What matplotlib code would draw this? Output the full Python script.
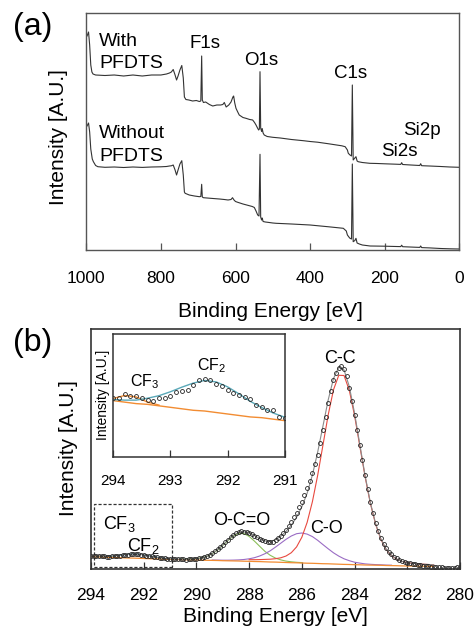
import numpy as np
import matplotlib
matplotlib.use('Agg')
import matplotlib.pyplot as plt
from matplotlib import rc
from matplotlib.patches import Rectangle

rc('font', family=['Liberation Sans', 'DejaVu Sans'])
rc('mathtext', default='regular')

# ---------------- (a) survey spectra ----------------
be_with = [998, 994, 991, 988, 985, 982, 975, 950, 925, 900,
           875, 850, 825, 800, 785, 777, 772, 767, 762, 758,
           754, 749, 744, 740, 737, 733, 725, 715, 705, 697,
           693, 690.7, 689, 686, 680, 670, 661, 650, 640, 634,
           630, 625, 618, 612, 607, 605, 602, 598.7, 594, 590,
           580, 572, 562, 554, 549, 545, 541, 538, 536, 534.3,
           532.5, 530, 528.5, 526, 523, 515, 500, 480, 450, 418,
           400, 380, 350, 329, 315, 306, 300, 297.6, 293, 289,
           286.8, 284.5, 280, 277, 274, 271, 260, 240, 220, 200,
           170, 157, 154.5, 152, 130, 106, 103.5, 101, 80, 50,
           25, 0]
int_with = [214, 218, 205, 185, 178, 176, 175, 174.5, 175, 174,
            175, 174, 175, 175, 176, 177, 178, 180.5, 175, 170,
            174, 180, 184.5, 172, 153, 150.5, 150, 149, 149.5, 148.5,
            149, 194, 150, 147.5, 148, 145.5, 144, 145, 145, 145.5,
            147.5, 143, 145, 148, 153, 154, 147, 141.7, 138, 135,
            132.5, 131.7, 130.5, 130, 127.5, 125, 122, 120, 121, 178.3,
            122, 118.5, 121.5, 117, 115, 113.5, 112.7, 112, 110.5, 109.3,
            108.5, 107.8, 106.2, 105, 104.2, 103.3, 100, 96.7, 95, 94,
            165, 90, 92, 93.3, 89, 88.3, 87.5, 86.7, 86.5, 86.2,
            85.8, 85.6, 87.3, 85.5, 85, 84.5, 86.3, 84.3, 84, 83.5,
            83, 82.7]

be_without = [998, 994, 991, 988, 984, 981, 975, 969, 950, 925,
              900, 875, 850, 825, 800, 785, 777, 772, 767, 762,
              758, 754, 749, 744, 740, 737, 735, 724, 710, 697,
              693, 690.7, 689, 686, 670, 650, 643, 630, 620, 612,
              608, 604, 600, 594, 580, 563, 555, 549.5, 545, 540.5,
              537, 534.3, 532.5, 530, 528.5, 526, 520, 513.7, 500, 491,
              450, 400, 350, 311, 303, 300, 295, 293, 289, 286.8,
              284.5, 280, 277, 274, 268, 260, 239, 200, 170, 157,
              154.5, 152, 120, 106, 103.5, 101, 80, 50, 25, 0]
int_without = [124, 127, 118, 101, 91, 88.3, 84.5, 83.3, 82.7, 83,
               82.5, 83, 82.6, 83, 83.2, 83.5, 84, 84.2, 85, 80,
               75, 80, 86, 89.3, 75, 58, 56.7, 55, 54, 53.3,
               53.5, 65.7, 53, 52.3, 51.8, 51.2, 51, 50.5, 50, 50.5,
               52.3, 50, 48.5, 47.7, 46, 44.3, 43.5, 42.5, 39, 35,
               34, 95.7, 33, 30, 32, 28.5, 28, 27.7, 27, 26.7,
               26, 25, 23.2, 21.7, 19, 15, 12.5, 11.7, 11, 86,
               8.3, 9.5, 11.7, 7, 6, 5, 4, 3.8, 3.5, 3.4,
               4.8, 3.3, 2.8, 2.6, 4, 2.4, 2.1, 1.5, 1.2, 1.0]

# ---------------- (b) C1s spectrum ----------------
be_data = np.round(np.arange(294.0, 279.95, -0.1), 1)
c1s_data = [12.7, 12.6, 13.2, 12.9, 12.9, 12.6, 12.4, 12.2, 12.6, 12.7,
            12.9, 13.5, 13.6, 13.7, 14.4, 15.1, 15.2, 15.1, 14.6, 14.3,
            13.7, 13.4, 13.1, 12.8, 12.5, 11.7, 11.4, 11.1, 11.0, 10.1,
            9.9,
            9.8, 9.6, 9.9, 10.1, 9.7, 9.5, 9.9, 10.2, 10.0, 10.4,
            10.9, 11.5, 12.1, 13.0, 14.2, 15.8, 17.6, 19.6, 21.8, 24.3,
            26.9, 29.4, 31.8, 34.0, 35.7, 36.9, 37.6, 37.5, 37.2, 36.4,
            35.0, 33.4, 31.6, 30.0, 28.6, 27.6, 26.8, 26.9, 27.5, 28.8,
            30.6, 33.0, 35.9, 39.3, 43.0, 47.2, 51.6, 56.5, 61.8, 67.5,
            73.8, 80.6, 88.0, 96.0, 104.8, 114.5, 126.0, 139.0, 152.5, 166.0,
            178.5, 189.0, 196.5, 201.0, 202.8, 200.5, 193.0, 181.5, 168.0, 154.0,
            139.5, 124.5, 109.0, 94.0, 80.5, 67.5, 56.0, 46.0, 38.0, 31.0,
            25.5, 21.0, 17.5, 14.6, 12.3, 10.6, 9.2, 8.0, 7.1, 6.4,
            5.8, 5.3, 4.8, 4.3, 3.9, 3.5, 3.1, 2.7, 2.4, 2.2,
            2.0, 1.8, 1.6, 1.4, 1.2, 1.0, 1.2, 1.5, 1.8, 2.2]

# fitted curves, 0.2 eV steps
fit_e = np.round(np.arange(294.0, 280.95, -0.2), 1)
background = [12.3, 12.1, 11.9, 11.8, 11.6, 11.4, 11.2, 11.0, 10.9, 10.7,
              10.5, 10.3, 10.1, 10.0, 9.8, 9.6,
              9.5, 9.4, 9.2, 9.1, 9.0,
              8.8, 8.7, 8.6, 8.5, 8.3,
              8.2, 8.1, 8.0, 7.8, 7.7,
              7.5, 7.4, 7.2, 7.0, 6.9,
              6.7, 6.5, 6.3, 6.2, 6.0,
              5.8, 5.7, 5.5, 5.3, 5.2,
              5.0, 4.8, 4.6, 4.5, 4.3,
              4.2, 4.0, 3.9, 3.8, 3.7,
              3.5, 3.4, 3.3, 3.1, 3.0,
              2.9, 2.8, 2.8, 2.7, 2.6]
cf3_start = 294.0
cf3 = [0.3, 0.9, 0.9, 0.3, 0.1]
cf2_start = 294.0
cf2 = [0.15, 0.27, 0.47, 0.83, 1.37, 2.1, 2.92, 3.67, 4.13, 4.13,
       3.67, 2.92, 2.1, 1.37, 0.83, 0.47, 0.27, 0.15]
oco_start = 290.6
oco = [0.4, 0.5, 0.9, 1.4, 2.4, 4.0, 6.7, 10.4, 15.3, 20.4, 24.9, 27.6,
       27.6, 24.9, 20.4, 15.3, 10.4, 6.7, 4.0, 2.4, 1.4, 0.9, 0.5, 0.4]
co_start = 289.4
co = [0.4, 0.4, 0.5, 0.6, 0.8, 1.1, 1.7, 2.5, 3.8, 5.6, 8.1, 11.2, 15.0,
      19.1, 23.2, 26.7, 29.1, 30.0, 29.1, 26.7, 23.2, 19.1, 15.0, 11.2,
      8.1, 5.6, 3.8, 2.5, 1.7, 1.1, 0.8, 0.6, 0.5, 0.4, 0.4]
cc_start = 288.0
cc = [1.6, 1.8, 2.0, 2.4, 2.8, 3.4, 4.5, 6.5, 10.0, 15.9, 25.8, 40.8,
      61.6, 88.2, 118.5, 149.0, 174.2, 188.9, 188.9, 174.2, 149.0, 118.5,
      88.2, 61.6, 40.8, 25.8, 15.9, 10.0, 6.5, 4.5, 3.4, 2.8, 2.4, 2.0,
      1.8, 1.6]

c_red = '#e8493f'
c_purple = '#9a6cc4'
c_green = '#8cc05a'
c_orange = '#f28c32'
c_teal = '#5aa8b8'
c_env = '#8a8a8a'
c_spec = '#333333'

bg = np.array(background)


def component(start, vals):
    i0 = int(round((fit_e[0] - start) / 0.2))
    idx = np.arange(i0, i0 + len(vals))
    return idx, bg[idx] + np.array(vals)


comps = [(cf3_start, cf3, c_orange), (cf2_start, cf2, c_teal),
         (oco_start, oco, c_green), (co_start, co, c_purple),
         (cc_start, cc, c_red)]

envelope = bg.copy()
for start, vals, col in comps:
    idx, yv = component(start, vals)
    envelope[idx] += np.array(vals)

W, H = 476, 626
fig = plt.figure(figsize=(W / 100, H / 100), dpi=100)


def px_axes(left, top, right, bottom):
    return fig.add_axes([left / W, 1 - bottom / H, (right - left) / W, (bottom - top) / H])


# ---- panel (a)
ax = px_axes(86.3, 12.7, 459.3, 250)
ax.plot(be_with, int_with, '-', color=c_spec, lw=0.8)
ax.plot(be_without, int_without, '-', color=c_spec, lw=0.8)
ax.set_xlim(1000, 0)
ax.set_ylim(0, 237.3)
ax.set_yticks([])
ax.set_xticks([1000, 800, 600, 400, 200, 0])
ax.tick_params(axis='x', direction='in', length=5, width=0.9, color='#555555',
               labelsize=12.5, pad=15)
for s in ax.spines.values():
    s.set_color('#555555')
    s.set_linewidth(1.0)

lab = dict(fontsize=14, va='baseline', ha='left', color='black')
ax.text(966, 204, 'With', **lab)
ax.text(966, 182.3, 'PFDTS', **lab)
ax.text(966, 112.3, 'Without', **lab)
ax.text(966, 89.3, 'PFDTS', **lab)
pk = dict(fontsize=13.5, va='baseline', ha='center', color='black')
ax.text(682, 202.3, 'F1s', **pk)
ax.text(530, 185, 'O1s', **pk)
ax.text(292, 171.7, 'C1s', **pk)
ax.text(101, 115.3, 'Si2p', **pk)
ax.text(162, 94.3, 'Si2s', **pk)

fig.text(270.5 / W, 1 - 316.7 / H, 'Binding Energy [eV]', fontsize=15,
         ha='center', va='baseline')
fig.text(58 / W, 1 - 137.5 / H, 'Intensity [A.U.]', fontsize=15,
         ha='center', va='center', rotation=90)
fig.text(32.5 / W, 1 - 26.7 / H, '(a)', fontsize=23, ha='center', va='center')

# ---- panel (b)
bx = px_axes(91, 329, 460, 569)
for start, vals, col in comps:
    idx, yv = component(start, vals)
    bx.plot(fit_e[idx], yv, '-', color=col, lw=0.8)
bx.plot(fit_e, bg, '-', color=c_orange, lw=0.9)
bx.plot(fit_e, envelope, '-', color=c_env, lw=0.8)
bx.plot(be_data, c1s_data, 'o', mfc='none', mec='#222222', ms=2.8, mew=0.6)
bx.add_patch(Rectangle((290.93, 1.7), 293.9 - 290.93, 65 - 1.7, fill=False,
                       ls=(0, (2.5, 1.5)), lw=0.9, ec='#333333'))
bx.set_xlim(294, 280)
bx.set_ylim(0, 240)
bx.set_yticks([])
bx.set_xticks(np.arange(294, 279, -2))
bx.tick_params(axis='x', direction='in', length=5, width=0.9, color='#333333',
               labelsize=12.5, pad=14)
for s in bx.spines.values():
    s.set_color('#333333')
    s.set_linewidth(1.2)

bl = dict(fontsize=13, va='baseline', color='black')
bx.text(284.55, 205.7, 'C-C', ha='center', **bl)
bx.text(288.28, 43.7, 'O-C=O', ha='center', **bl)
bx.text(285.06, 36.3, 'C-O', ha='center', **bl)
bx.text(293.53, 39.7, 'CF$_3$', ha='left', **bl)
bx.text(292.65, 18.3, 'CF$_2$', ha='left', **bl)

fig.text(275 / W, 1 - 622 / H, 'Binding Energy [eV]', fontsize=15,
         ha='center', va='baseline')
fig.text(68.7 / W, 1 - 448 / H, 'Intensity [A.U.]', fontsize=15,
         ha='center', va='center', rotation=90)
fig.text(33 / W, 1 - 343 / H, '(b)', fontsize=23, ha='center', va='center')

# ---- inset
ix = px_axes(113.3, 334, 284.6, 457.3)
ix.set_facecolor('white')
ix.plot(fit_e, bg, '-', color=c_orange, lw=1.0)
for start, vals, col in comps[:2]:
    idx, yv = component(start, vals)
    ix.plot(fit_e[idx], yv, '-', color=col, lw=1.0)
ix.plot(be_data, c1s_data, 'o', mfc='none', mec='#222222', ms=2.8, mew=0.6)
ix.set_xlim(294, 291)
ix.set_ylim(4.65, 21.3)
ix.set_yticks([])
ix.set_xticks([294, 293, 292, 291])
ix.tick_params(axis='x', direction='in', length=5, width=0.9, color='#333333',
               labelsize=11, pad=12)
for s in ix.spines.values():
    s.set_color('#333333')
    s.set_linewidth(1.1)
ix.text(292.53, 16.45, 'CF$_2$', fontsize=11.5, ha='left', va='baseline')
ix.text(293.71, 14.19, 'CF$_3$', fontsize=11.5, ha='left', va='baseline')
fig.text(102.5 / W, 1 - 395 / H, 'Intensity [A.U.]', fontsize=10,
         ha='center', va='center', rotation=90)

fig.savefig('out.png', dpi=100)
